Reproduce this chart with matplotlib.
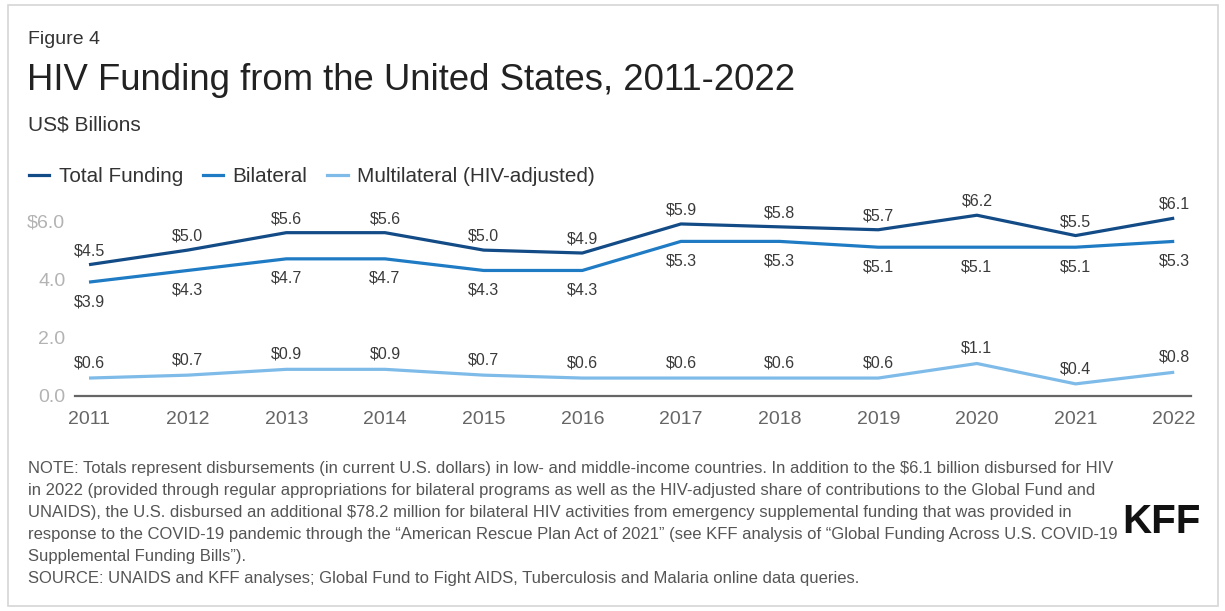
import matplotlib.pyplot as plt
from matplotlib.patches import Rectangle

plt.rcParams['font.family'] = ['Liberation Sans', 'DejaVu Sans']

years = [2011, 2012, 2013, 2014, 2015, 2016, 2017, 2018, 2019, 2020, 2021, 2022]
total = [4.5, 5.0, 5.6, 5.6, 5.0, 4.9, 5.9, 5.8, 5.7, 6.2, 5.5, 6.1]
bilateral = [3.9, 4.3, 4.7, 4.7, 4.3, 4.3, 5.3, 5.3, 5.1, 5.1, 5.1, 5.3]
multilateral = [0.6, 0.7, 0.9, 0.9, 0.7, 0.6, 0.6, 0.6, 0.6, 1.1, 0.4, 0.8]
y_ticks = [0.0, 2.0, 4.0, 6.0]
y_tick_labels = ['0.0', '2.0', '4.0', '$6.0']

c_total = '#134b86'
c_bilat = '#1f7bc4'
c_multi = '#7fbbe8'

fig = plt.figure(figsize=(12.25, 6.11), dpi=100)
W, H = 1225, 611

# light frame around the whole graphic
fig.patches.append(Rectangle((8 / W, 1 - 606 / H), 1210 / W, 601 / H,
                             transform=fig.transFigure, fill=False,
                             edgecolor='#d6d6d6', linewidth=1.2))

ax = fig.add_axes([75 / W, 1 - 395.5 / H, 1116 / W, 189 / H])
ax.plot(years, total, color=c_total, lw=2.3, solid_capstyle='butt')
ax.plot(years, bilateral, color=c_bilat, lw=2.3, solid_capstyle='butt')
ax.plot(years, multilateral, color=c_multi, lw=2.3, solid_capstyle='butt')

ax.set_xlim(2010.858, 2022.17)
ax.set_ylim(0, 6.5)
ax.set_xticks(years)
ax.set_xticklabels([str(y) for y in years], fontsize=14, color='#666666')
ax.set_yticks(y_ticks)
ax.set_yticklabels(y_tick_labels, fontsize=14, color='#b3b3b3')
ax.tick_params(axis='x', length=0, pad=11)
ax.tick_params(axis='y', length=0, pad=7)
for side in ['top', 'right', 'left']:
    ax.spines[side].set_visible(False)
ax.spines['bottom'].set_color('#666666')
ax.spines['bottom'].set_linewidth(1.6)

lab_kw = dict(ha='center', va='center', fontsize=11.5, color='#3a3a3a',
              textcoords='offset points', clip_on=False)
for x, v in zip(years, total):
    ax.annotate(f'${v:.1f}', (x, v), xytext=(0, 10), **lab_kw)
for x, v in zip(years, bilateral):
    ax.annotate(f'${v:.1f}', (x, v), xytext=(0, -14), **lab_kw)
for x, v in zip(years, multilateral):
    ax.annotate(f'${v:.1f}', (x, v), xytext=(0, 11), **lab_kw)

fig.text(28 / W, 1 - 40 / H, 'Figure 4', fontsize=14, color='#333333', va='center')
fig.text(27 / W, 1 - 80 / H, 'HIV Funding from the United States, 2011-2022',
         fontsize=26.3, color='#222222', va='center')
fig.text(28 / W, 1 - 125 / H, 'US$ Billions', fontsize=15, color='#333333', va='center')

handles = [plt.Line2D([], [], color=c, lw=2.3) for c in (c_total, c_bilat, c_multi)]
fig.legend(handles, ['Total Funding', 'Bilateral', 'Multilateral (HIV-adjusted)'],
           loc='center left', bbox_to_anchor=(10 / W, 1 - 177 / H), ncol=3,
           frameon=False, fontsize=14.9, handlelength=1.0, handletextpad=0.45,
           columnspacing=0.95, labelcolor='#333333')

note = ('NOTE: Totals represent disbursements (in current U.S. dollars) in low- and middle-income countries. '
        'In addition to the $6.1 billion disbursed for HIV\n'
        'in 2022 (provided through regular appropriations for bilateral programs as well as the '
        'HIV-adjusted share of contributions to the Global Fund and\n'
        'UNAIDS), the U.S. disbursed an additional $78.2 million for bilateral HIV activities from '
        'emergency supplemental funding that was provided in\n'
        'response to the COVID-19 pandemic through the \u201cAmerican Rescue Plan Act of 2021\u201d '
        '(see KFF analysis of \u201cGlobal Funding Across U.S. COVID-19\n'
        'Supplemental Funding Bills\u201d).\n'
        'SOURCE: UNAIDS and KFF analyses; Global Fund to Fight AIDS, Tuberculosis and Malaria online data queries.')
fig.text(28 / W, 1 - 461 / H, note, fontsize=12, color='#555555', va='top',
         linespacing=1.58)

fig.text(1161 / W, 1 - 522 / H, 'KFF', fontsize=29, fontweight='bold',
         color='#111111', ha='center', va='center')

fig.savefig('out.png', dpi=100)
